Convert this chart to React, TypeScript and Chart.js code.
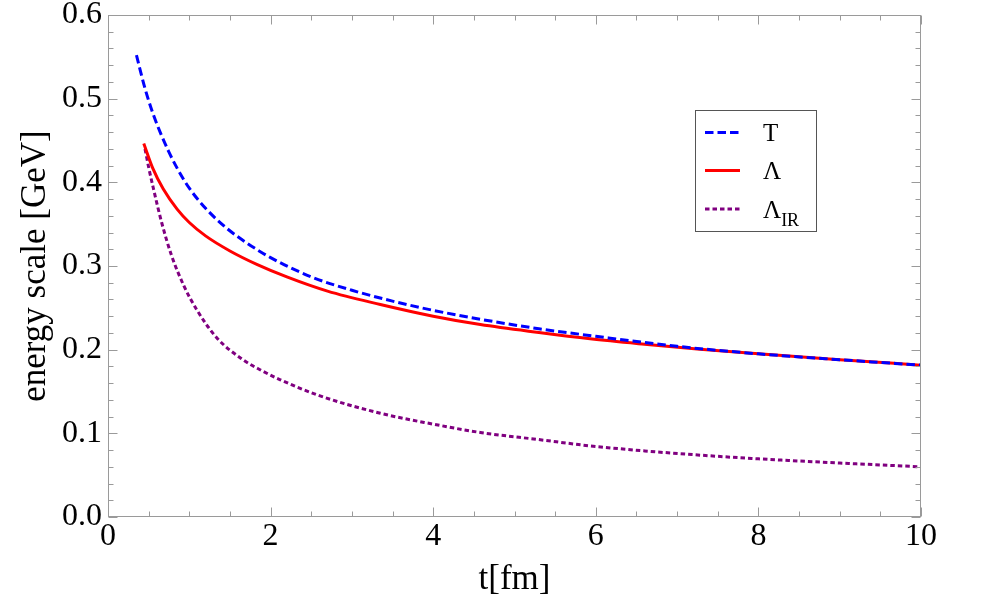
import { useEffect, useRef } from "react";
import { Chart, registerables } from "chart.js";

Chart.register(...registerables);

const SERIF = '"Liberation Serif", "Times New Roman", serif';

// Temperature T(t) [GeV]
const tTemp = [0.35, 0.45, 0.55, 0.65, 0.75, 0.85, 1.0, 1.2, 1.45, 1.7, 2.0, 2.5, 3.0, 3.5, 4.0, 4.6, 5.3, 6.0, 7.0, 8.0, 9.0, 10.0];
const temperature = [0.552, 0.514, 0.483, 0.458, 0.436, 0.417, 0.393, 0.369, 0.346, 0.328, 0.31, 0.287, 0.271, 0.258, 0.247, 0.236, 0.225, 0.216, 0.204, 0.195, 0.188, 0.1815];

// Scale Lambda(t) [GeV]
const tLambda = [0.44, 0.55, 0.68, 0.85, 1.0, 1.2, 1.5, 1.83, 2.2, 2.7, 3.35, 4.0, 4.58, 5.3, 5.93, 6.6, 7.28, 8.0, 9.0, 10.0];
const lambda = [0.4465, 0.417, 0.392, 0.368, 0.352, 0.336, 0.318, 0.302, 0.287, 0.27, 0.254, 0.24, 0.23, 0.2205, 0.213, 0.2065, 0.2005, 0.195, 0.188, 0.1815];

// Infrared scale Lambda_IR(t) [GeV]
const tLambdaIR = [0.455, 0.5, 0.56, 0.66, 0.78, 0.93, 1.09, 1.34, 1.66, 1.87, 2.12, 2.6, 3.35, 4.0, 4.58, 5.3, 5.93, 6.6, 7.2, 8.0, 9.0, 10.0];
const lambdaIR = [0.44, 0.418, 0.392, 0.352, 0.313, 0.277, 0.248, 0.214, 0.188, 0.176, 0.164, 0.145, 0.124, 0.111, 0.101, 0.0925, 0.085, 0.079, 0.0745, 0.0695, 0.0645, 0.06];

// Axis ranges and tick spacing
const xRange = [0, 10];
const xStep = 2;
const xMinorDivisions = 4;
const yRange = [0, 0.6];
const yStep = 0.1;
const yMinorDivisions = 5;

const xTitle = "t[fm]";
const yTitle = "energy scale [GeV]";

// Legend entries: main symbol + subscript
const legendNames = ["T", "Λ", "Λ"];
const legendSubscripts = ["", "", "IR"];

const seriesColors = ["#0000ff", "#ff0000", "#800080"];
const seriesDashes: number[][] = [[8.5, 4], [], [4.5, 3]];

const toPoints = (xs: number[], ys: number[]) => xs.map((x, i) => ({ x, y: ys[i] }));

const FRAME = "#9a9a9a";

// Mathematica-style frame with ticks on all four sides
const framePlugin = {
  id: "frameTicks",
  afterDatasetsDraw(chart: any) {
    const { ctx, chartArea: a, scales } = chart;
    const xs = scales.x;
    const ys = scales.y;
    ctx.save();
    ctx.strokeStyle = FRAME;
    ctx.lineWidth = 1;
    ctx.setLineDash([]);
    const L = Math.round(a.left) + 0.5;
    const R = Math.round(a.right) - 0.5;
    const T = Math.round(a.top) + 0.5;
    const B = Math.round(a.bottom) - 0.5;
    ctx.strokeRect(L, T, R - L, B - T);

    const major = 9;
    const minor = 5;
    const xTicks = xs.ticks.map((t: any) => t.value);
    const yTicks = ys.ticks.map((t: any) => t.value);

    const drawX = (v: number, len: number) => {
      const p = Math.round(xs.getPixelForValue(v)) + 0.5;
      ctx.beginPath();
      ctx.moveTo(p, B);
      ctx.lineTo(p, B - len);
      ctx.moveTo(p, T);
      ctx.lineTo(p, T + len);
      ctx.stroke();
    };
    const drawY = (v: number, len: number) => {
      const p = Math.round(ys.getPixelForValue(v)) + 0.5;
      ctx.beginPath();
      ctx.moveTo(L, p);
      ctx.lineTo(L + len, p);
      ctx.moveTo(R, p);
      ctx.lineTo(R - len, p);
      ctx.stroke();
    };

    xTicks.forEach((v: number, i: number) => {
      drawX(v, major);
      if (i < xTicks.length - 1) {
        const d = (xTicks[i + 1] - v) / xMinorDivisions;
        for (let k = 1; k < xMinorDivisions; k++) drawX(v + k * d, minor);
      }
    });
    yTicks.forEach((v: number, i: number) => {
      drawY(v, major);
      if (i < yTicks.length - 1) {
        const d = (yTicks[i + 1] - v) / yMinorDivisions;
        for (let k = 1; k < yMinorDivisions; k++) drawY(v + k * d, minor);
      }
    });
    ctx.restore();
  },
};

// Boxed legend with a subscripted label
const legendPlugin = {
  id: "boxLegend",
  afterDraw(chart: any) {
    const { ctx } = chart;
    const box = { left: 695.5, top: 110.5, width: 121, height: 121 };
    const rowY = [132.5, 170.5, 209];
    const lineX0 = 705;
    const lineX1 = 740;
    const textX = 763;
    ctx.save();
    ctx.fillStyle = "#ffffff";
    ctx.fillRect(box.left, box.top, box.width, box.height);
    ctx.strokeStyle = "#555555";
    ctx.lineWidth = 1;
    ctx.strokeRect(box.left, box.top, box.width, box.height);

    chart.data.datasets.forEach((ds: any, i: number) => {
      const y = rowY[i];
      ctx.strokeStyle = ds.borderColor;
      ctx.lineWidth = ds.borderWidth;
      ctx.setLineDash(ds.borderDash || []);
      ctx.beginPath();
      ctx.moveTo(lineX0, y);
      ctx.lineTo(lineX1, y);
      ctx.stroke();
      ctx.setLineDash([]);

      ctx.fillStyle = "#000000";
      ctx.textBaseline = "alphabetic";
      ctx.textAlign = "left";
      ctx.font = `25px ${SERIF}`;
      const base = y + 8.5;
      ctx.fillText(legendNames[i], textX, base);
      if (legendSubscripts[i]) {
        const w = ctx.measureText(legendNames[i]).width;
        ctx.font = `18px ${SERIF}`;
        ctx.fillText(legendSubscripts[i], textX + w, base + 8);
      }
    });
    ctx.restore();
  },
};

export default function App() {
  const canvasRef = useRef<HTMLCanvasElement | null>(null);

  useEffect(() => {
    document.body.style.margin = "0";
    const canvas = canvasRef.current;
    if (!canvas) return;

    const names = ["T", "Λ", "Λ_IR"];
    const series = [
      toPoints(tTemp, temperature),
      toPoints(tLambda, lambda),
      toPoints(tLambdaIR, lambdaIR),
    ];

    const chart = new Chart(canvas, {
      type: "line",
      data: {
        datasets: series.map((data, i) => ({
          label: names[i],
          data,
          borderColor: seriesColors[i],
          backgroundColor: seriesColors[i],
          borderWidth: 3,
          borderDash: seriesDashes[i],
          pointRadius: 0,
          fill: false,
          cubicInterpolationMode: "monotone" as const,
        })),
      },
      options: {
        responsive: false,
        animation: false,
        devicePixelRatio: 1,
        layout: { padding: { top: 15, right: 66, left: 0, bottom: 0 } },
        plugins: {
          legend: { display: false },
          tooltip: { enabled: false },
        },
        scales: {
          x: {
            type: "linear",
            min: xRange[0],
            max: xRange[1],
            grid: { display: false, drawTicks: false },
            border: { display: false },
            ticks: {
              stepSize: xStep,
              padding: 0,
              color: "#000",
              font: { family: SERIF, size: 32 },
              maxRotation: 0,
              callback: (v: any) => String(v),
            },
            title: {
              display: true,
              text: xTitle,
              color: "#000",
              font: { family: SERIF, size: 35 },
              padding: { top: 0, bottom: 15 },
            },
            afterFit: (scale: any) => {
              scale.height = 99;
              scale.paddingLeft = 0;
              scale.paddingRight = 0;
            },
          },
          y: {
            type: "linear",
            min: yRange[0],
            max: yRange[1],
            grid: { display: false, drawTicks: false },
            border: { display: false },
            ticks: {
              stepSize: yStep,
              padding: 6,
              color: "#000",
              font: { family: SERIF, size: 32 },
              callback: (v: any) => Number(v).toFixed(1),
            },
            title: {
              display: true,
              text: yTitle,
              color: "#000",
              font: { family: SERIF, size: 35 },
              padding: { top: 15, bottom: 0 },
            },
            afterFit: (scale: any) => {
              scale.width = 108;
              scale.paddingTop = 0;
              scale.paddingBottom = 0;
            },
          },
        },
      },
      plugins: [framePlugin, legendPlugin],
    });

    return () => chart.destroy();
  }, []);

  return (
    <div style={{ width: 987, height: 616, background: "#fff" }}>
      <canvas ref={canvasRef} width={987} height={616} style={{ display: "block" }} />
    </div>
  );
}
